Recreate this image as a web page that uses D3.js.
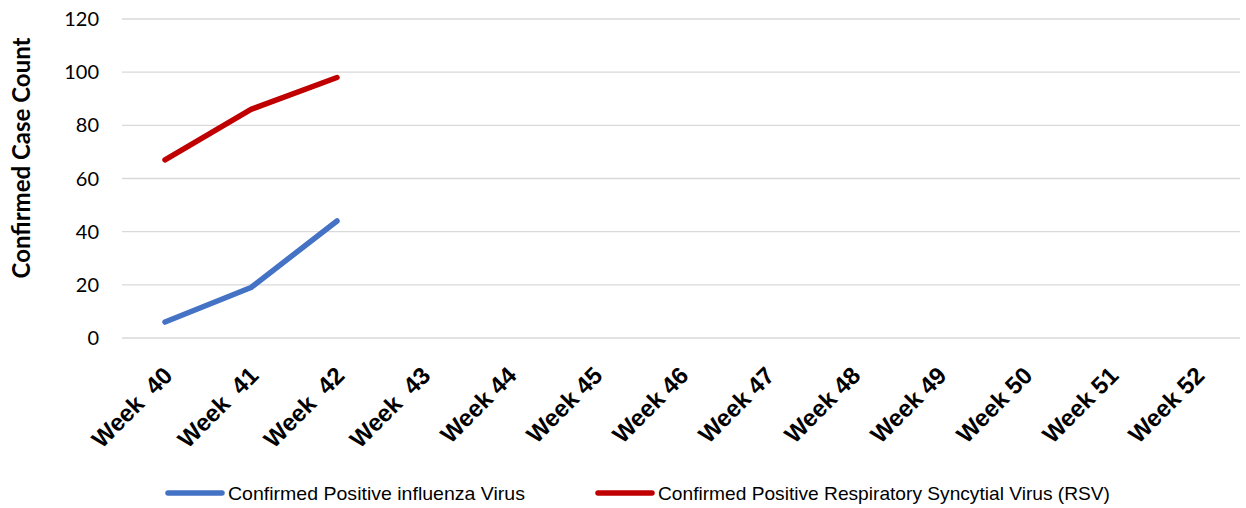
<!DOCTYPE html>
<html><head><meta charset="utf-8">
<script src="https://cdn.jsdelivr.net/npm/d3@7"></script>
<style>html,body{margin:0;padding:0;background:#fff;}</style>
</head><body>
<svg id="chart" width="1246" height="508"></svg>
<script>
const categories = ["Week  40","Week  41","Week  42","Week  43","Week 44","Week 45","Week 46","Week 47","Week 48","Week 49","Week 50","Week 51","Week 52"];
const fluValues = [6, 19, 44];
const rsvValues = [67, 86, 98];
const yTicks = [0, 20, 40, 60, 80, 100, 120];
const seriesNames = ["Confirmed Positive influenza Virus", "Confirmed Positive Respiratory Syncytial Virus (RSV)"];
const seriesColors = ["#4472c4", "#c00000"];

(function () {
const svg = d3.select("#chart");
const pLeft = 122, pRight = 1240, pTop = 19, pBottom = 338;
const x = d3.scaleBand().domain(categories).range([pLeft, pRight]);
const y = d3.scaleLinear().domain([0, 120]).range([pBottom, pTop]);

// gridlines
svg.append("g").selectAll("line").data(yTicks).join("line")
  .attr("x1", pLeft).attr("x2", pRight)
  .attr("y1", d => y(d)).attr("y2", d => y(d))
  .attr("stroke", "#d9d9d9").attr("stroke-width", 1.3);

// y tick labels
svg.append("g").selectAll("text").data(yTicks).join("text")
  .attr("x", 99).attr("y", d => y(d)).attr("dy", "0.35em")
  .attr("text-anchor", "end")
  .style("font-family", "Lato, 'Open Sans', sans-serif").style("font-size", "20px").attr("fill", "#000")
  .text(d => d);

// y axis title
svg.append("text")
  .attr("transform", `translate(30,158) rotate(-90)`)
  .attr("text-anchor", "middle")
  .style("font-family", "Lato, 'Open Sans', sans-serif").style("font-size", "24px").style("font-weight", "bold")
  .text("Confirmed Case Count");

// x labels
svg.append("g").selectAll("text").data(categories).join("text")
  .attr("transform", d => `translate(${x(d) + x.bandwidth() / 2 + 9},${377}) rotate(-45)`)
  .attr("text-anchor", "end")
  .style("white-space", "pre")
  .style("font-family", "'Liberation Sans', Arial, sans-serif").style("font-size", "24px").style("font-weight", "bold")
  .text(d => d);

// lines
const line = d3.line().x((d, i) => x(categories[i]) + x.bandwidth() / 2).y(d => y(d));
[fluValues, rsvValues].forEach((vals, k) => {
  svg.append("path").datum(vals)
    .attr("d", line).attr("fill", "none")
    .attr("stroke", seriesColors[k]).attr("stroke-width", 5.5)
    .attr("stroke-linecap", "round").attr("stroke-linejoin", "round");
});

// legend
const legendX = [168, 598];
const legendW = [297, 452];
seriesNames.forEach((name, k) => {
  svg.append("line")
    .attr("x1", legendX[k]).attr("x2", legendX[k] + 54)
    .attr("y1", 493).attr("y2", 493)
    .attr("stroke", seriesColors[k]).attr("stroke-width", 5.5).attr("stroke-linecap", "round");
  svg.append("text")
    .attr("x", legendX[k] + 60).attr("y", 493).attr("dy", "0.35em")
    .attr("textLength", legendW[k]).attr("lengthAdjust", "spacingAndGlyphs")
    .style("font-family", "'Liberation Sans Narrow', 'Liberation Sans', sans-serif").style("font-size", "19px")
    .text(name);
});
})();
</script>
</body></html>
